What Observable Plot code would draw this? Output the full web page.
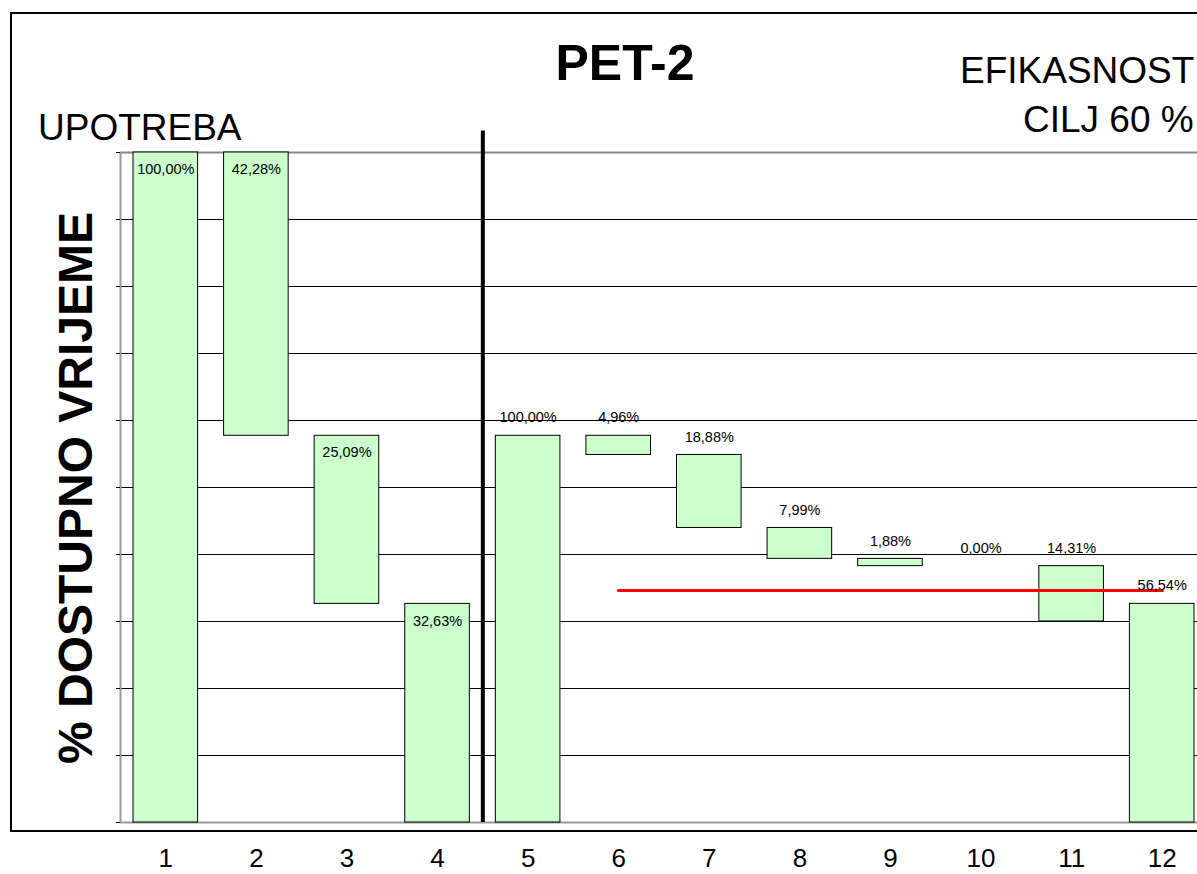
<!DOCTYPE html>
<html><head><meta charset="utf-8">
<script src="https://cdn.jsdelivr.net/npm/d3@7"></script>
<script src="https://cdn.jsdelivr.net/npm/@observablehq/plot@0.6"></script>
<style>
html,body{margin:0;padding:0;background:#fff;overflow:hidden;width:1197px;height:874px}
#wrap{position:relative;width:1197px;height:874px;overflow:hidden;font-family:"Liberation Sans",Arial,sans-serif}
.t{position:absolute;white-space:nowrap;line-height:1;color:#000}
</style></head><body>
<div id="wrap">
  <div id="frame" style="position:absolute;left:10px;top:12px;width:1300px;height:820px;border:2px solid #000;box-sizing:border-box"></div>
  <div id="chart" style="position:absolute;left:0;top:0"></div>
  <div class="t" style="left:0;width:1250px;text-align:center;top:38px;font-size:50px;font-weight:bold">PET-2</div>
  <div class="t" style="left:960px;top:52px;font-size:37px">EFIKASNOST</div>
  <div class="t" style="left:1023px;top:101px;font-size:37px">CILJ 60 %</div>
  <div class="t" style="left:38px;top:109px;font-size:37px">UPOTREBA</div>
  <div class="t" style="left:-224px;top:464px;width:600px;height:48px;line-height:48px;text-align:center;font-size:48px;font-weight:bold;transform:rotate(-90deg);transform-origin:center">% DOSTUPNO VRIJEME</div>
</div>
<script>
// ---- data ----
const usageCats = [1, 2, 3, 4];
const usageValues = [100, 42.28, 25.09, 32.63];
const effCats = [5, 6, 7, 8, 9, 10, 11, 12];
const effValues = [100, 4.96, 18.88, 7.99, 1.88, 0, 14.31, 56.54];
const xTickLabels = ["1","2","3","4","5","6","7","8","9","10","11","12"];
const yTicks = [0, 10, 20, 30, 40, 50, 60, 70, 80, 90, 100];
const targetPct = 60;
const dividerTop = 103.2;

const fmt = v => v.toFixed(2).replace(".", ",") + "%";

// build floating bars
const rows = [];
{
  let level = usageValues[0];
  usageValues.forEach((v, i) => {
    let y1, y2;
    if (i === 0) { y1 = 0; y2 = v; }
    else if (i === usageValues.length - 1) { y1 = 0; y2 = v; }
    else { y2 = level; y1 = level - v; level = y1; }
    rows.push({cat: usageCats[i], v, y1, y2, group: "u"});
  });
}
const avail = usageValues[0] - usageValues[1];
const s = avail / 100;
{
  let level = avail;
  effValues.forEach((v, i) => {
    let y1, y2;
    if (i === 0) { y1 = 0; y2 = avail; }
    else if (i === effValues.length - 1) { y1 = 0; y2 = v * s; }
    else { y2 = level; y1 = level - v * s; level = y1; }
    rows.push({cat: effCats[i], v, y1, y2, group: "e"});
  });
}
const target = targetPct / 100 * avail;
const targetCats = effCats.slice(1);
const allCats = usageCats.concat(effCats);
const dividerX = (usageCats[usageCats.length - 1] + effCats[0]) / 2;

const chart = Plot.plot({
  width: 1215,
  height: 874,
  marginLeft: 120,
  marginRight: 8,
  marginTop: 152,
  marginBottom: 52,
  x: {type: "linear", domain: [0.5, 12.5], axis: null},
  y: {domain: [0, 100], axis: null},
  style: {maxWidth: "none", background: "transparent", overflow: "visible", fontFamily: "'Liberation Sans', Arial, sans-serif", color: "#000"},
  marks: [
    Plot.gridY(yTicks, {stroke: "#000", strokeOpacity: 1, strokeWidth: 1}),
    Plot.ruleY([100], {stroke: "#888", strokeWidth: 2}),
    Plot.ruleY([0], {stroke: "#999", strokeWidth: 2}),
    Plot.ruleX([0.5], {stroke: "#999", strokeWidth: 2}),
    Plot.axisY(yTicks, {tickSize: 4, tickFormat: () => "", label: null, stroke: "#000"}),
    Plot.rect(rows.filter(d => d.v > 0), {
      x1: d => d.cat - 0.5, x2: d => d.cat + 0.5, y1: "y1", y2: "y2",
      insetLeft: 13, insetRight: 13, fill: "#ccffcc", stroke: "#000", strokeWidth: 1
    }),
    Plot.ruleX([dividerX], {y1: 0, y2: dividerTop, stroke: "#000", strokeWidth: 4}),
    Plot.line(targetCats, {x: d => d, y: () => target, stroke: "#ff0000", strokeWidth: 3}),
    Plot.dot(targetCats, {x: d => d, y: () => target, r: 1.5, fill: "#ff0000", stroke: null}),
    Plot.text(rows.filter(d => d.group === "u"), {
      x: "cat", y: "y2", text: d => fmt(d.v), dy: 17, fontSize: 14.5, fill: "#000", lineAnchor: "middle"
    }),
    Plot.text(rows.filter(d => d.group === "e"), {
      x: "cat", y: "y2", text: d => fmt(d.v), dy: -18, fontSize: 14.5, fill: "#000", lineAnchor: "middle"
    }),
    Plot.axisX(allCats, {tickSize: 0, tickPadding: 26, fontSize: 26, tickFormat: d => xTickLabels[d - 1], label: null, fill: "#000"})
  ]
});
document.getElementById("chart").appendChild(chart);
</script>
</body></html>
